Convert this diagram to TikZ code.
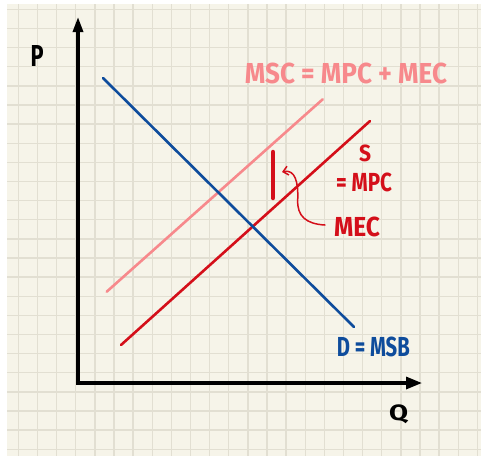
\documentclass[tikz,border=0pt]{standalone}
\usepackage{fontspec}
\setmainfont{Fira Sans}
\usetikzlibrary{arrows.meta}
\definecolor{paper}{HTML}{F6F4E9}
\definecolor{gridc}{HTML}{E2DFD2}
\definecolor{dblue}{HTML}{0E4C9C}
\definecolor{sred}{HTML}{D40F1A}
\definecolor{mpink}{HTML}{F7898C}
\newcommand{\hw}[3]{\resizebox*{#1pt}{#2pt}{\bfseries #3}}
\begin{document}
\begin{tikzpicture}[x=1pt,y=-1pt,
  curve/.style={line width=2.6pt, line cap=round},
  lbl/.style={inner sep=0pt, anchor=center},
  gridline/.style={gridc, line width=1.4pt}]
\useasboundingbox (0,0) rectangle (481,456);
\fill[white] (0,0) rectangle (481,456);
\fill[paper] (7,4) rectangle (481,456);
\foreach \k in {0,...,24} \draw[gridline] ({18.3+19.13*\k},4) -- ({18.3+19.13*\k},456);
\foreach \k in {0,...,23} \draw[gridline] (7,{9.3+19.13*\k}) -- (481,{9.3+19.13*\k});

% axes
\coordinate (O) at (78,383);
\coordinate (ytop) at (78,17);
\coordinate (xend) at (422,383);
\draw[line width=3.2pt, line join=miter,
  {Triangle[length=15pt,width=10pt]}-{Triangle[length=16pt,width=12pt]}] (ytop) -- (O) -- (xend);

% curves
\coordinate (d1) at (103,78);  \coordinate (d2) at (354,327);
\coordinate (m1) at (106.7,291.7); \coordinate (m2) at (322.7,99.3);
\coordinate (s1) at (121,345); \coordinate (s2) at (370,121);
\draw[curve, mpink] (m1) -- (m2);
\draw[curve, sred] (s1) -- (s2);
\draw[curve, dblue] (d1) -- (d2);

% labels
\node[lbl] (P) at (37,56.2) {\hw{13}{21}{P}};
\node[lbl] (Q) at (398.5,414.5) {\hw{19}{19}{Q}};
\node[lbl, text=dblue] (D) at (373.3,347) {\hw{73}{20}{D = MSB}};
\node[lbl, text=mpink] (MSC) at (346,73.3) {\hw{202}{21}{MSC = MPC + MEC}};
\node[lbl, text=sred] (S) at (365,153.5) {\hw{12}{17}{S}};
\node[lbl, text=sred] (MPC) at (364,182.5) {\hw{56}{19}{= MPC}};
\node[lbl, text=sred] (mec) at (357,227) {\hw{46}{20}{MEC}};

% MEC bar and pointer
\coordinate (bt) at (273,152); \coordinate (bb) at (273,198);
\draw[sred, line width=4.5pt, line cap=round] (bt) -- (bb);
\coordinate (mecstart) at (325,225);
\coordinate (tip) at (282,172);
\draw[sred, line width=1.5pt, line cap=round,
  -{Straight Barb[length=5pt,width=9pt]}]
  (mecstart) .. controls (306,224) and (297,216) .. (297.7,200)
  .. controls (298.5,182) and (295,169) .. (tip);
\end{tikzpicture}
\end{document}
